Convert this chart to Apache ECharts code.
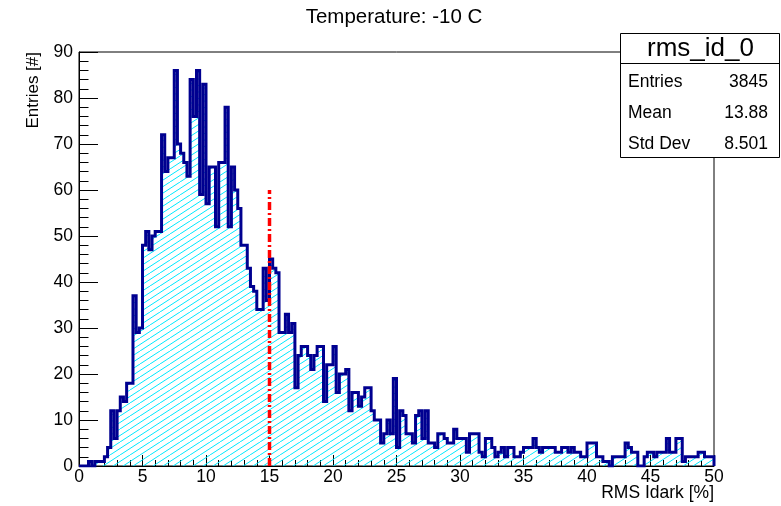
<!DOCTYPE html>
<html>
<head>
<meta charset="utf-8">
<script src="https://cdn.jsdelivr.net/npm/echarts@6/dist/echarts.min.js"></script>
<style>
  html, body { margin: 0; padding: 0; background: #fff; }
  #chart { width: 781px; height: 506px; }
</style>
</head>
<body>
<div id="chart"></div>
<script>
// Histogram of RMS Idark [%], 200 bins of 0.25 between 0 and 50
const binWidth = 0.25;
const xRange = [0, 50];
const yRange = [0, 90];
const xTickStep = 5;
const yTickStep = 10;

const counts = [
  0, 0, 0, 1, 0, 1, 1, 1, 2, 4,
  12, 6, 12, 15, 14, 18, 18, 37, 29, 30,
  48, 51, 47, 50, 51, 51, 72, 64, 67, 67,
  86, 70, 68, 66, 63, 84, 76, 86, 59, 83,
  57, 65, 65, 52, 66, 66, 78, 52, 65, 60,
  56, 48, 48, 43, 39, 38, 34, 34, 43, 36,
  45, 43, 42, 29, 29, 33, 29, 31, 17, 24,
  26, 26, 24, 21, 24, 26, 26, 14, 22, 22,
  26, 16, 20, 20, 21, 12, 16, 16, 13, 15,
  17, 17, 12, 10, 10, 5, 7, 10, 7, 19,
  4, 12, 11, 7, 7, 5, 11, 12, 6, 12,
  5, 5, 4, 7, 7, 6, 5, 5, 8, 6,
  6, 6, 3, 7, 7, 7, 3, 2, 6, 6,
  4, 2, 3, 4, 2, 4, 4, 2, 2, 3,
  4, 4, 4, 6, 4, 3, 4, 4, 4, 4,
  3, 3, 4, 4, 3, 4, 3, 3, 2, 2,
  5, 5, 5, 2, 2, 1, 1, 0, 2, 2,
  2, 2, 5, 4, 3, 3, 0, 0, 2, 3,
  3, 2, 3, 3, 3, 6, 3, 3, 6, 6,
  1, 2, 2, 2, 2, 3, 3, 2, 2, 2
];

// Vertical cut marker: x position and height
const cutX = 15;
const cutHeight = 60;

const titleText = 'Temperature: -10 C';
const xAxisTitle = 'RMS Idark [%]';
const yAxisTitle = 'Entries [#]';

const statsTitle = 'rms_id_0';
const statsLabels = ['Entries', 'Mean', 'Std Dev'];
const statsValues = ['3845', '13.88', '8.501'];

const FONT = '"Liberation Sans", Arial, Helvetica, sans-serif';

// Step outline points: each bin starts at its lower edge
const histPoints = counts.map((v, i) => [xRange[0] + i * binWidth, v]);
histPoints.push([xRange[0] + counts.length * binWidth, 0]);

// Cyan diagonal hatch tile
function hatchPattern() {
  const w = 20, h = 13, step = 10;
  const c = document.createElement('canvas');
  c.width = w; c.height = h;
  const g = c.getContext('2d');
  g.strokeStyle = '#00e8ff';
  g.lineWidth = 1;
  for (let k = -3; k <= 3; k++) {
    g.beginPath();
    g.moveTo(k * step, h);
    g.lineTo(k * step + w, 0);
    g.stroke();
  }
  return c;
}

const chart = echarts.init(document.getElementById('chart'), null, { renderer: 'canvas' });

const gridLeft = 79, gridTop = 52, gridW = 635, gridH = 414;

const boxX = 620, boxY = 33, boxW = 159, titleH = 30, rowH = 31;

const graphics = [
  {
    type: 'text', x: 394, y: 17,
    style: { text: titleText, font: '20.5px ' + FONT, fill: '#000', align: 'center', verticalAlign: 'middle' }
  },
  {
    type: 'text', x: gridLeft + gridW, y: 493,
    style: { text: xAxisTitle, font: '17.5px ' + FONT, fill: '#000', align: 'right', verticalAlign: 'middle' }
  },
  {
    type: 'text', x: 33, y: gridTop, rotation: Math.PI / 2,
    style: { text: yAxisTitle, font: '17px ' + FONT, fill: '#000', align: 'right', verticalAlign: 'middle' }
  },
  {
    type: 'rect', z: 100,
    shape: { x: boxX + 0.5, y: boxY + 0.5, width: boxW, height: titleH + rowH * statsLabels.length + 1 },
    style: { fill: '#fff', stroke: '#000', lineWidth: 1 }
  },
  {
    type: 'line', z: 101,
    shape: { x1: boxX, y1: boxY + titleH + 0.5, x2: boxX + boxW, y2: boxY + titleH + 0.5 },
    style: { stroke: '#000', lineWidth: 1 }
  },
  {
    type: 'text', z: 102, x: boxX + boxW / 2 + 1, y: boxY + titleH / 2 + 1,
    style: { text: statsTitle, font: '26px ' + FONT, fill: '#000', align: 'center', verticalAlign: 'middle' }
  }
];
statsLabels.forEach((lab, i) => {
  const cy = boxY + titleH + rowH * i + rowH / 2 + 3.5;
  graphics.push({
    type: 'text', z: 102, x: boxX + 8, y: cy,
    style: { text: lab, font: '17.5px ' + FONT, fill: '#000', align: 'left', verticalAlign: 'middle' }
  });
  graphics.push({
    type: 'text', z: 102, x: boxX + boxW - 11, y: cy,
    style: { text: statsValues[i], font: '17.5px ' + FONT, fill: '#000', align: 'right', verticalAlign: 'middle' }
  });
});

chart.setOption({
  backgroundColor: '#fff',
  animation: false,
  grid: {
    left: gridLeft, top: gridTop, width: gridW, height: gridH,
    show: true, borderColor: '#000', borderWidth: 1, backgroundColor: 'transparent'
  },
  xAxis: {
    type: 'value', min: xRange[0], max: xRange[1], interval: xTickStep,
    axisLine: { show: true, onZero: false, lineStyle: { color: '#000', width: 1 } },
    axisTick: { show: true, inside: true, length: 11, lineStyle: { color: '#000' } },
    minorTick: { show: true, splitNumber: 5, length: 6, lineStyle: { color: '#000' } },
    splitLine: { show: false },
    axisLabel: { color: '#000', fontSize: 17.5, fontFamily: FONT, margin: 2 }
  },
  yAxis: {
    type: 'value', min: yRange[0], max: yRange[1], interval: yTickStep,
    axisLine: { show: true, lineStyle: { color: '#000', width: 1 } },
    axisTick: { show: true, inside: true, length: 19, lineStyle: { color: '#000' } },
    minorTick: { show: true, splitNumber: 5, length: 9.5, lineStyle: { color: '#000' } },
    splitLine: { show: false },
    axisLabel: { color: '#000', fontSize: 17.5, fontFamily: FONT, margin: 6 }
  },
  series: [
    {
      type: 'line',
      name: 'rms_id_0',
      data: histPoints,
      step: 'end',
      symbol: 'none',
      silent: true,
      lineStyle: { color: '#000090', width: 3, join: 'miter' },
      areaStyle: { color: { image: hatchPattern(), repeat: 'repeat' }, opacity: 1 },
      z: 2
    },
    {
      type: 'line',
      data: [[cutX, 0], [cutX, cutHeight]],
      symbol: 'none',
      silent: true,
      lineStyle: { color: '#ff0000', width: 3.5, type: [8, 3, 2, 3] },
      z: 3
    }
  ],
  graphic: graphics
});
</script>
</body>
</html>
